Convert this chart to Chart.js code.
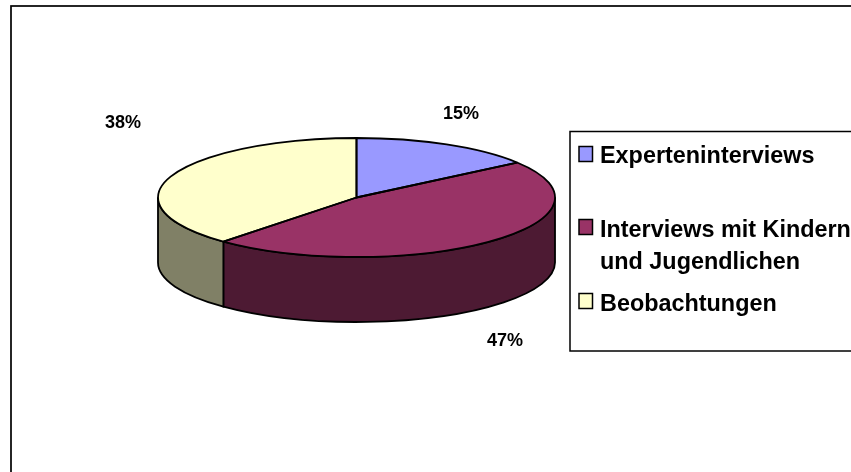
<!DOCTYPE html>
<html>
<head>
<meta charset="utf-8">
<style>
  html, body { margin: 0; padding: 0; background: #fff; overflow: hidden; }
  #wrap { position: relative; width: 851px; height: 472px; }
</style>
<script src="https://cdn.jsdelivr.net/npm/chart.js@4"></script>
</head>
<body>
<div id="wrap"><canvas id="pieChart" width="851" height="472"></canvas></div>
<script>
// data
const categories = ['Experteninterviews', 'Interviews mit Kindern und Jugendlichen', 'Beobachtungen'];
const shares = [15, 46.7, 38.3];
const pctLabels = ['15%', '47%', '38%'];

const legendLines = [['Experteninterviews'], ['Interviews mit Kindern', 'und Jugendlichen'], ['Beobachtungen']];
const topColors = ['#9999ff', '#993366', '#ffffcc'];
const sideColors = ['#4d4d80', '#4d1a33', '#808066'];

// layout of the tilted pie
const radiusX = 198.5, radiusY = 59.5, depth = 65;
const pctAnchors = [[461, 114], [505, 341], [123, 123]];
const legendSwatchY = [146.5, 219.5, 293.5];
const legendBaselines = [[163], [237, 269], [311]];

function ellipsePath(ctx, arc, a, b) {
    ctx.ellipse(arc.x, arc.y, radiusX, radiusY, 0, a, b);
}

const tiltedPie = {
    id: 'tiltedPie',
    beforeDatasetsDraw(chart) {
        const ctx = chart.ctx;
        const arcs = chart.getDatasetMeta(0).data;
        ctx.save();
        ctx.strokeStyle = '#000';
        ctx.lineWidth = 1.8;
        // rim: only the front half of the pie shows a wall
        arcs.forEach((arc, i) => {
            for (const shift of [0, 2 * Math.PI]) {
                const a = Math.max(arc.startAngle + shift, 0);
                const b = Math.min(arc.endAngle + shift, Math.PI);
                if (b <= a) continue;
                ctx.beginPath();
                ellipsePath(ctx, arc, a, b);
                ctx.ellipse(arc.x, arc.y + depth, radiusX, radiusY, 0, b, a, true);
                ctx.closePath();
                ctx.fillStyle = sideColors[i];
                ctx.fill();
                ctx.stroke();
            }
        });
        ctx.restore();
        // squash the library's own slices into the top face
        const first = arcs[0];
        ctx.save();
        ctx.translate(first.x, first.y);
        ctx.scale(1, radiusY / radiusX);
        ctx.translate(-first.x, -first.y);
    },
    afterDatasetsDraw(chart) {
        const ctx = chart.ctx;
        ctx.restore();
        const arcs = chart.getDatasetMeta(0).data;
        ctx.save();
        ctx.strokeStyle = '#000';
        ctx.lineWidth = 1.8;
        ctx.lineJoin = 'round';
        arcs.forEach(arc => {
            ctx.beginPath();
            ctx.moveTo(arc.x, arc.y);
            ellipsePath(ctx, arc, arc.startAngle, arc.endAngle);
            ctx.closePath();
            ctx.stroke();
        });
        ctx.restore();
    },
    afterDraw(chart) {
        const ctx = chart.ctx;
        ctx.save();
        ctx.fillStyle = '#000';

        // percent labels
        ctx.font = 'bold 18px "Liberation Sans", Arial, sans-serif';
        ctx.textAlign = 'center';
        ctx.textBaseline = 'middle';
        pctLabels.forEach((t, i) => ctx.fillText(t, pctAnchors[i][0], pctAnchors[i][1]));

        // chart frame and legend box run off the right edge, like the original
        ctx.strokeStyle = '#000';
        ctx.lineWidth = 1.7;
        ctx.strokeRect(11, 6, 900, 600);
        ctx.lineWidth = 1.5;
        ctx.strokeRect(570, 131.5, 400, 219.5);

        // legend
        ctx.textAlign = 'left';
        ctx.textBaseline = 'alphabetic';
        ctx.font = 'bold 23.4px "Liberation Sans", Arial, sans-serif';
        legendLines.forEach((lines, i) => {
            ctx.fillStyle = topColors[i];
            ctx.fillRect(579, legendSwatchY[i], 13.5, 15);
            ctx.strokeRect(579, legendSwatchY[i], 13.5, 15);
            ctx.fillStyle = '#000';
            lines.forEach((t, j) => ctx.fillText(t, 600, legendBaselines[i][j]));
        });
        ctx.restore();
    }
};

new Chart(document.getElementById('pieChart').getContext('2d'), {
    type: 'pie',
    data: {
        labels: categories,
        datasets: [{
            data: shares,
            backgroundColor: topColors,
            borderWidth: 0,
            radius: radiusX
        }]
    },
    options: {
        responsive: false,
        animation: false,
        // chart area is centred on the pie
        layout: { padding: { left: 0, top: 0, right: 138, bottom: 77 } },
        plugins: {
            legend: { display: false },
            tooltip: { enabled: false }
        }
    },
    plugins: [tiltedPie]
});
</script>
</body>
</html>
